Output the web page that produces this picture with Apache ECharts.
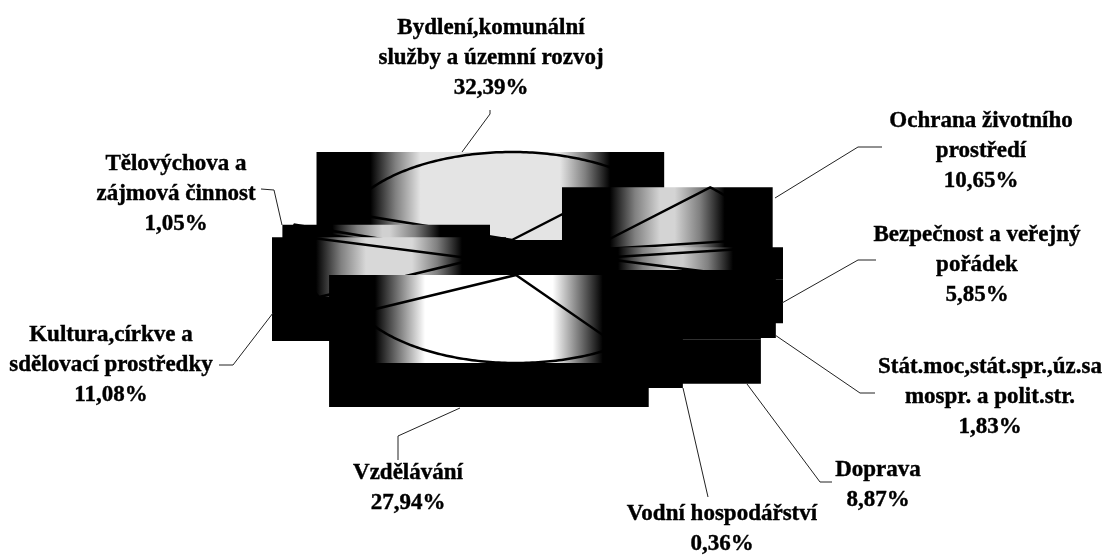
<!DOCTYPE html>
<html>
<head>
<meta charset="utf-8">
<script src="https://cdn.jsdelivr.net/npm/echarts@6/dist/echarts.min.js"></script>
<style>
  html, body { margin: 0; background: #fff; }
  #chart { width: 1108px; height: 555px; }
</style>
</head>
<body>
<div id="chart"></div>
<script>
// pie order, clockwise
const names = [
  'Bydlení,komunální\nslužby a územní rozvoj',
  'Ochrana životního\nprostředí',
  'Bezpečnost a veřejný\npořádek',
  'Stát.moc,stát.spr.,úz.sa\nmospr. a polit.str.',
  'Doprava',
  'Vodní hospodářství',
  'Vzdělávání',
  'Kultura,církve a\nsdělovací prostředky',
  'Tělovýchova a\nzájmová činnost'
]
const shares = [32.39, 10.65, 5.85, 1.83, 8.87, 0.36, 27.94, 11.08, 1.05]

// layout of the flattened pie
const RX = 174, RY = 88, DEPTH = 44
const START = -72

// where each slice sits once pulled apart, its box padding and how pale it gets
const slots = [
  { ax: 512, ay: 240, padL: 30, padR: 30, dark: 54, light: '#e4e4e4' },
  { ax: 588, ay: 250, padL: 26, padR: 12, dark: 48, light: '#d4d4d4' },
  { ax: 598, ay: 258, padL: 30, padR: 11, dark: 50, light: '#cccccc' },
  { ax: 577, ay: 270, padL: 30, padR: 30, depth: 37, solid: true },
  { ax: 568, ay: 270, padL: 30, padR: 30, solid: true },
  { ax: 547, ay: 273, padL: 30, padR: 30, solid: true },
  { ax: 516, ay: 275, padL: 30, padR: 30, dark: 46, light: '#ffffff' },
  { ax: 476, ay: 259, padL: 30, padR: 30, dark: 44, light: '#d8d8d8' },
  { ax: 460, ay: 252, padL: 9, padR: 30, dark: 50, light: '#d0d0d0' }
]
const drawOrder = [0, 8, 7, 1, 2, 3, 4, 5, 6]

// label centre, first line y, leader points
const labelSpots = [
  { x: 491, y: 28, leader: [[490, 110], [490, 114], [462, 152]] },
  { x: 981, y: 121, leader: [[775, 198], [858, 147], [882, 147]] },
  { x: 977, y: 235, leader: [[782, 303], [858, 260], [876, 260]] },
  { x: 990, y: 367, leader: [[775, 335], [860, 393], [875, 393]] },
  { x: 878, y: 470, leader: [[747, 384], [820, 482], [832, 482]] },
  { x: 722, y: 514, leader: [[683, 388], [708, 497]] },
  { x: 408, y: 473, leader: [[460, 408], [398, 436], [398, 460]] },
  { x: 111, y: 335, leader: [[219, 365], [233, 365], [273, 313]] },
  { x: 176, y: 164, leader: [[261, 189], [274, 190], [282, 225]] }
]

const rad = (d) => d * Math.PI / 180

const sliceGeometry = (i) => {
  const before = shares.slice(0, i).reduce((acc, v) => acc + v, 0)
  const a0 = START + before * 3.6
  const a1 = a0 + shares[i] * 3.6
  const {ax, ay} = slots[i]
  const pts = [[ax, ay]]
  const steps = Math.max(2, Math.ceil(a1 - a0))
  for (let s = 0; s <= steps; s++) {
    const a = rad(a0 + (a1 - a0) * s / steps)
    pts.push([ax + RX * Math.sin(a), ay - RY * Math.cos(a)])
  }
  pts.push([ax, ay])
  return pts
}

// black edges, pale middle, fade width in px
const boxFill = (w, slot) => {
  if (slot.solid) return '#000'
  const fade = 50
  const c = (px) => Math.min(0.5, px / w)
  return new echarts.graphic.LinearGradient(0, 0, 1, 0, [
    { offset: 0, color: '#000' },
    { offset: c(slot.dark), color: '#000' },
    { offset: c(slot.dark + fade / 2), color: '#808080' },
    { offset: c(slot.dark + fade), color: slot.light },
    { offset: 1 - c(slot.dark + fade), color: slot.light },
    { offset: 1 - c(slot.dark + fade / 2), color: '#808080' },
    { offset: 1 - c(slot.dark), color: '#000' },
    { offset: 1, color: '#000' }
  ])
}

const renderSlice = (params, api) => {
  const i = api.value(0)
  const slot = slots[i]
  const pts = sliceGeometry(i)
  const xs = pts.map(p => p[0])
  const ys = pts.map(p => p[1])
  const x0 = Math.min(...xs) - slot.padL
  const x1 = Math.max(...xs) + slot.padR
  const y0 = Math.min(...ys)
  const y1 = Math.max(...ys)
  return {
    type: 'group',
    children: [
      { type: 'rect', shape: { x: x0, y: y0, width: x1 - x0, height: y1 - y0 }, style: { fill: boxFill(x1 - x0, slot) } },
      { type: 'rect', shape: { x: x0, y: y1, width: x1 - x0, height: slot.depth || DEPTH }, style: { fill: '#000' } },
      { type: 'polyline', shape: { points: pts }, style: { fill: null, stroke: '#000', lineWidth: 2.5 } }
    ]
  }
}

const renderLabel = (params, api) => {
  const i = api.value(0)
  const spot = labelSpots[i]
  const pct = shares[i].toFixed(2).replace('.', ',') + '%'
  return {
    type: 'group',
    children: [
      { type: 'polyline', shape: { points: spot.leader }, style: { fill: null, stroke: '#222', lineWidth: 1 } },
      {
        type: 'text',
        style: {
          x: spot.x,
          y: spot.y - 15,
          text: names[i] + '\n' + pct,
          align: 'center',
          verticalAlign: 'top',
          font: 'bold 23px "Liberation Serif"',
          lineHeight: 30,
          fill: '#000',
          stroke: '#000',
          lineWidth: 0.4
        }
      }
    ]
  }
}

const chart = echarts.init(document.getElementById('chart'), null, { renderer: 'canvas' })
chart.setOption({
  backgroundColor: '#fff',
  animation: false,
  series: [
    { type: 'custom', coordinateSystem: 'none', renderItem: renderSlice, data: drawOrder.map(i => [i, shares[i]]), silent: true, z: 1 },
    { type: 'custom', coordinateSystem: 'none', renderItem: renderLabel, data: names.map((_, i) => [i, shares[i]]), silent: true, z: 2 }
  ]
})
</script>
</body>
</html>
